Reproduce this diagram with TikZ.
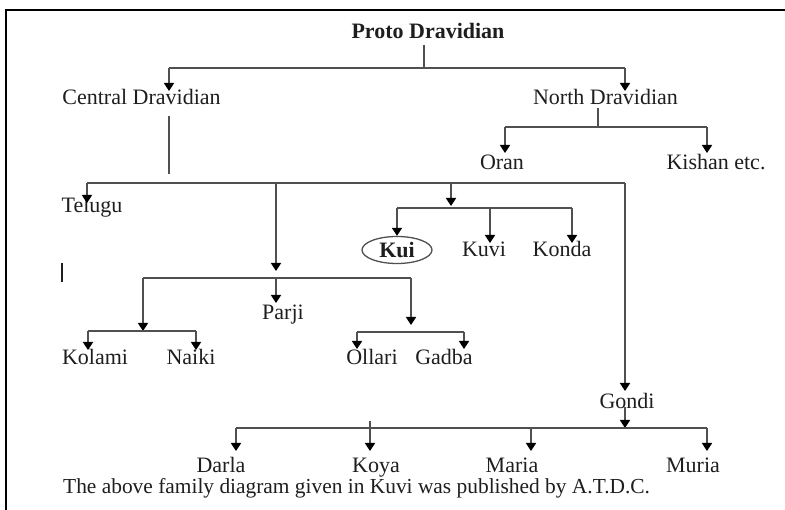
\documentclass[tikz,border=0pt]{standalone}
\usepackage{fontspec}
\setmainfont{Liberation Serif}
\usetikzlibrary{arrows.meta,shapes.geometric}
\definecolor{ln}{HTML}{505050}
\definecolor{tx}{HTML}{1E1E1E}
\begin{document}
\begin{tikzpicture}[x=1pt,y=-1pt,
  lbl/.style={inner sep=0pt,anchor=base,text=tx,font=\fontsize{22}{26}\selectfont},
  wire/.style={draw=ln,line width=1.7pt},
  arr/.style={wire,-{Triangle[width=10pt,length=8pt,fill=black,color=black]}},
  frame/.style={draw=black,line width=2pt}]
\useasboundingbox (0,0) rectangle (785,510);
\fill[white] (0,0) rectangle (785,510);
% frame
\coordinate (fTL) at (6,10);
\coordinate (fTR) at (785,10);
\coordinate (fBL) at (6,510);
\draw[frame] (fTR) -- (fTL) -- (fBL);

% labels
\node[lbl,font=\fontsize{22}{26}\selectfont\bfseries] (proto) at (428,39) {Proto Dravidian};
\node[lbl] (cd) at (141.5,105) {Central Dravidian};
\node[lbl] (nd) at (605.5,105) {North Dravidian};
\node[lbl] (oran) at (502,170) {Oran};
\node[lbl] (kishan) at (716,170) {Kishan etc.};
\node[lbl] (telugu) at (92,213) {Telugu};
\node[ellipse,draw=ln,line width=1.3pt,minimum width=70pt,minimum height=27pt,inner sep=0pt,text=tx,
      font=\fontsize{22}{26}\selectfont\bfseries] (kui) at (397,250) {Kui};
\node[lbl] (kuvi) at (484,257) {Kuvi};
\node[lbl] (konda) at (562,257) {Konda};
\node[lbl] (parji) at (283,320) {Parji};
\node[lbl] (kolami) at (95,365) {Kolami};
\node[lbl] (naiki) at (191,365) {Naiki};
\node[lbl] (ollari) at (372,365) {Ollari};
\node[lbl] (gadba) at (444,365) {Gadba};
\node[lbl] (gondi) at (627,409) {Gondi};
\node[lbl] (darla) at (221,473) {Darla};
\node[lbl] (koya) at (376,473) {Koya};
\node[lbl] (maria) at (512,473) {Maria};
\node[lbl] (muria) at (693,473) {Muria};
\node[lbl,anchor=base west,font=\fontsize{21.4}{25}\selectfont] (cap) at (63,494) {The above family diagram given in Kuvi was published by A.T.D.C.};

% stray mark
\coordinate (m1) at (62,263);
\coordinate (m2) at (62,282);
\draw[draw=tx,line width=2.5pt] (m1) -- (m2);

% Proto -> Central / North
\coordinate (p0) at (424,45);
\coordinate (p1) at (424,68);
\coordinate (pL) at (169,68);
\coordinate (pR) at (625,68);
\coordinate (cdT) at (169,91);
\coordinate (ndT) at (625,91);
\draw[wire] (p0) -- (p1);
\draw[wire] (pL) -- (pR);
\draw[arr] (pL) -- (cdT);
\draw[arr] (pR) -- (ndT);

% North -> Oran / Kishan
\coordinate (n0) at (598,108);
\coordinate (n1) at (598,127);
\coordinate (nL) at (505,127);
\coordinate (nR) at (707,127);
\coordinate (oranT) at (505,153);
\coordinate (kishT) at (707,153);
\draw[wire] (n0) -- (n1);
\draw[wire] (nL) -- (nR);
\draw[arr] (nL) -- (oranT);
\draw[arr] (nR) -- (kishT);

% Central -> main bar
\coordinate (c0) at (169,116);
\coordinate (c1) at (169,174);
\draw[wire] (c0) -- (c1);
\coordinate (mL) at (87,183);
\coordinate (mR) at (625,183);
\draw[wire] (mL) -- (mR);
\coordinate (telT) at (87,203);
\draw[arr] (mL) -- (telT);

% branch to Parji group
\coordinate (b0) at (276,183);
\coordinate (b1) at (276,271);
\draw[arr] (b0) -- (b1);
\coordinate (hL) at (143,278);
\coordinate (hM) at (276,278);
\coordinate (hR) at (411,278);
\draw[wire] (hL) -- (hR);
\coordinate (parT) at (276,303);
\draw[arr] (hM) -- (parT);

% Kolami / Naiki
\coordinate (kL0) at (143,331);
\draw[arr] (hL) -- (kL0);
\coordinate (kA) at (88,331);
\coordinate (kB) at (196,331);
\draw[wire] (kA) -- (kB);
\coordinate (kolT) at (88,350);
\coordinate (naiT) at (196,350);
\draw[arr] (kA) -- (kolT);
\draw[arr] (kB) -- (naiT);

% Ollari / Gadba
\coordinate (oR0) at (411,325);
\draw[arr] (hR) -- (oR0);
\coordinate (oA) at (357,332);
\coordinate (oB) at (464,332);
\draw[wire] (oA) -- (oB);
\coordinate (olT) at (357,349);
\coordinate (gaT) at (464,349);
\draw[arr] (oA) -- (olT);
\draw[arr] (oB) -- (gaT);

% Kui group
\coordinate (q0) at (451,183);
\coordinate (q1) at (451,206);
\draw[arr] (q0) -- (q1);
\coordinate (qA) at (397,208);
\coordinate (qB) at (490,208);
\coordinate (qC) at (572,208);
\draw[wire] (qA) -- (qC);
\draw[arr] (qA) -- (kui.north);
\coordinate (kuvT) at (490,243);
\coordinate (konT) at (572,243);
\draw[arr] (qB) -- (kuvT);
\draw[arr] (qC) -- (konT);

% Gondi
\coordinate (gT) at (625,391);
\draw[arr] (mR) -- (gT);
\coordinate (g0) at (625,407);
\coordinate (g1) at (625,428);
\draw[arr] (g0) -- (g1);
\coordinate (gA) at (236,428);
\coordinate (gC) at (531,428);
\coordinate (gD) at (707,428);
\draw[wire] (gA) -- (gD);
\coordinate (darT) at (236,451);
\coordinate (koy0) at (370,421);
\coordinate (koyT) at (370,451);
\coordinate (marT) at (531,451);
\coordinate (murT) at (707,451);
\draw[arr] (gA) -- (darT);
\draw[arr] (koy0) -- (koyT);
\draw[arr] (gC) -- (marT);
\draw[arr] (gD) -- (murT);
\end{tikzpicture}
\end{document}
